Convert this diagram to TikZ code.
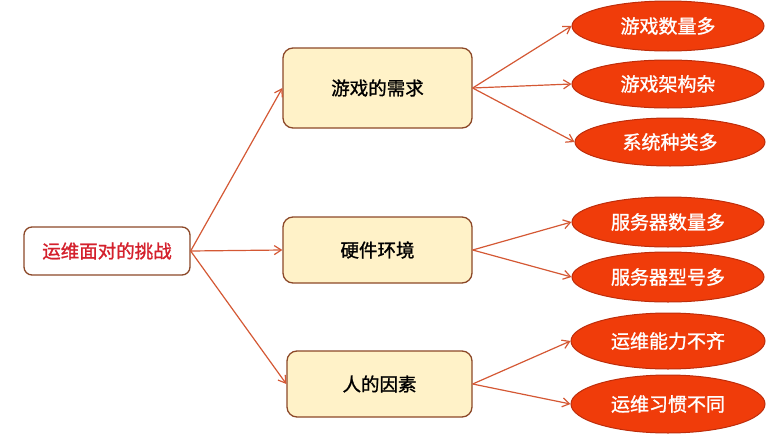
\documentclass[tikz,border=0pt]{standalone}
\usepackage{fontspec}
\setmainfont{Noto Sans CJK SC}
\newfontfamily\cjkmed[FakeBold=1.2]{Noto Sans CJK SC}
\usetikzlibrary{shapes.geometric,arrows.meta}
\definecolor{arrowc}{RGB}{212,88,52}
\definecolor{boxfill}{RGB}{255,242,200}
\definecolor{boxline}{RGB}{140,72,40}
\definecolor{ellfill}{RGB}{240,60,10}
\definecolor{ellline}{RGB}{190,45,10}
\definecolor{roottext}{RGB}{212,32,44}
\begin{document}
\begin{tikzpicture}[x=1pt,y=-1pt,
  rootbox/.style={draw=boxline,line width=1.3pt,rounded corners=8pt,fill=white,minimum width=166pt,minimum height=48pt,text=roottext,font=\cjkmed\fontsize{18.5}{20}\selectfont,inner sep=0pt},
  midbox/.style={draw=boxline,line width=1.3pt,rounded corners=10pt,fill=boxfill,minimum width=189pt,text=black,font=\cjkmed\fontsize{18.5}{20}\selectfont,inner sep=0pt},
  leaf/.style={ellipse,draw=ellline,line width=1pt,fill=ellfill,minimum width=192pt,minimum height=52pt,text=white,font=\cjkmed\fontsize{19}{20}\selectfont,inner sep=0pt},
  conn/.style={draw=arrowc,line width=1.2pt,-{Straight Barb[length=7pt,width=9pt]}}]
\useasboundingbox (0,0) rectangle (780,434);
\node[rootbox] (root) at (107,251) {运维面对的挑战};
\node[midbox,minimum height=80pt] (m1) at (377.5,88) {游戏的需求};
\node[midbox,minimum height=66pt] (m2) at (377.5,250) {硬件环境};
\node[midbox,minimum height=66pt,minimum width=185pt] (m3) at (379.5,384) {人的因素};
\node[leaf,minimum height=50pt] (e1) at (668,26) {游戏数量多};
\node[leaf,minimum height=48pt] (e2) at (668,84) {游戏架构杂};
\node[leaf,minimum height=48pt,minimum width=190pt] (e3) at (670,142) {系统种类多};
\node[leaf,minimum height=50pt] (e4) at (668,222) {服务器数量多};
\node[leaf,minimum height=50pt] (e5) at (668,277) {服务器型号多};
\node[leaf,minimum height=56pt,minimum width=194pt] (e6) at (668,341) {运维能力不齐};
\node[leaf,minimum height=58pt,minimum width=194pt] (e7) at (668,404) {运维习惯不同};
\draw[conn] (root.east) -- (m1.west);
\draw[conn] (root.east) -- (m2.west);
\draw[conn] (root.east) -- (m3.west);
\draw[conn] (m1.east) -- (e1.west);
\draw[conn] (m1.east) -- (e2.west);
\draw[conn] (m1.east) -- (e3.west);
\draw[conn] (m2.east) -- (e4.west);
\draw[conn] (m2.east) -- (e5.west);
\draw[conn] (m3.east) -- (e6.west);
\draw[conn] (m3.east) -- (e7.west);
\end{tikzpicture}
\end{document}
